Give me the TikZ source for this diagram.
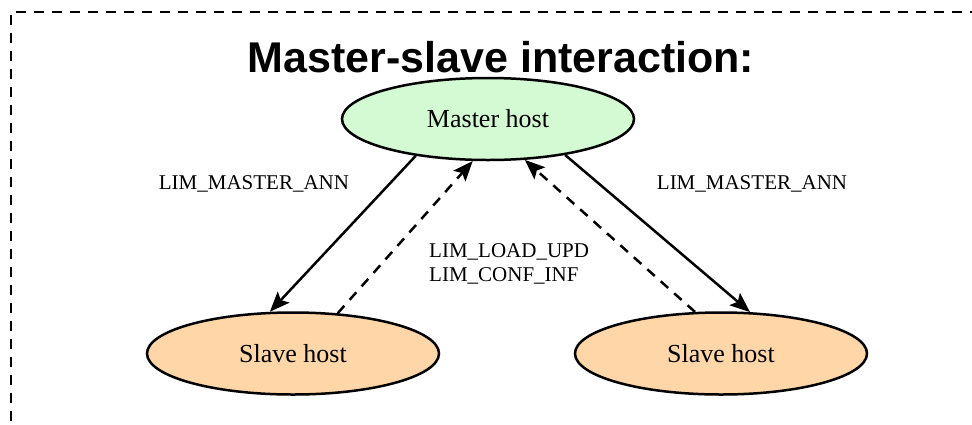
\documentclass[tikz,border=0pt]{standalone}
\usepackage{fontspec}
\setmainfont{Liberation Serif}
\newfontfamily\titlefont{Liberation Sans}
\usetikzlibrary{shapes.geometric,arrows.meta}
\definecolor{mastergreen}{HTML}{D3FAD3}
\definecolor{slavepeach}{HTML}{FFD6A8}
\begin{document}
\begin{tikzpicture}[x=1pt,y=-1pt,
  hostnode/.style={ellipse,draw=black,line width=2.5pt,minimum width=292pt,minimum height=82pt,inner sep=0pt,font=\fontsize{26}{30}\selectfont},
  msgarrow/.style={line width=2.5pt,-{Stealth[length=20pt,width=16pt,inset=4pt]}},
  msgdash/.style={msgarrow,dash pattern=on 10pt off 8pt},
  lbl/.style={font=\fontsize{21}{24}\selectfont,inner sep=0pt},
  frame/.style={line width=2.5pt,dash pattern=on 10pt off 8pt}]
\useasboundingbox (0,0) rectangle (972,424);
\coordinate (fc) at (11,12);
\coordinate (ftr) at (980,12);
\coordinate (fbl) at (11,430);
\draw[frame] (ftr) -- (fc) -- (fbl);
\node[font=\titlefont\bfseries\fontsize{43}{48}\selectfont,inner sep=0pt] (title) at (501,57) {Master-slave interaction:};
\node[hostnode,fill=mastergreen] (m) at (488,119) {Master host};
\node[hostnode,fill=slavepeach] (sl) at (293,353.5) {Slave host};
\node[hostnode,fill=slavepeach] (sr) at (721,353.5) {Slave host};
\draw[msgarrow] (m.207.9) -- (sl.119.7);
\draw[msgdash] (sl.42.8) -- (m.250.8);
\draw[msgdash] (sr.122) -- (m.312);
\draw[msgarrow] (m.335) -- (sr.55.7);
\node[lbl] (l1) at (254,184) {LIM\_MASTER\_ANN};
\node[lbl] (l2) at (752,184) {LIM\_MASTER\_ANN};
\node[lbl,align=left,anchor=west] (l3) at (429,264) {LIM\_LOAD\_UPD\\LIM\_CONF\_INF};
\end{tikzpicture}
\end{document}
